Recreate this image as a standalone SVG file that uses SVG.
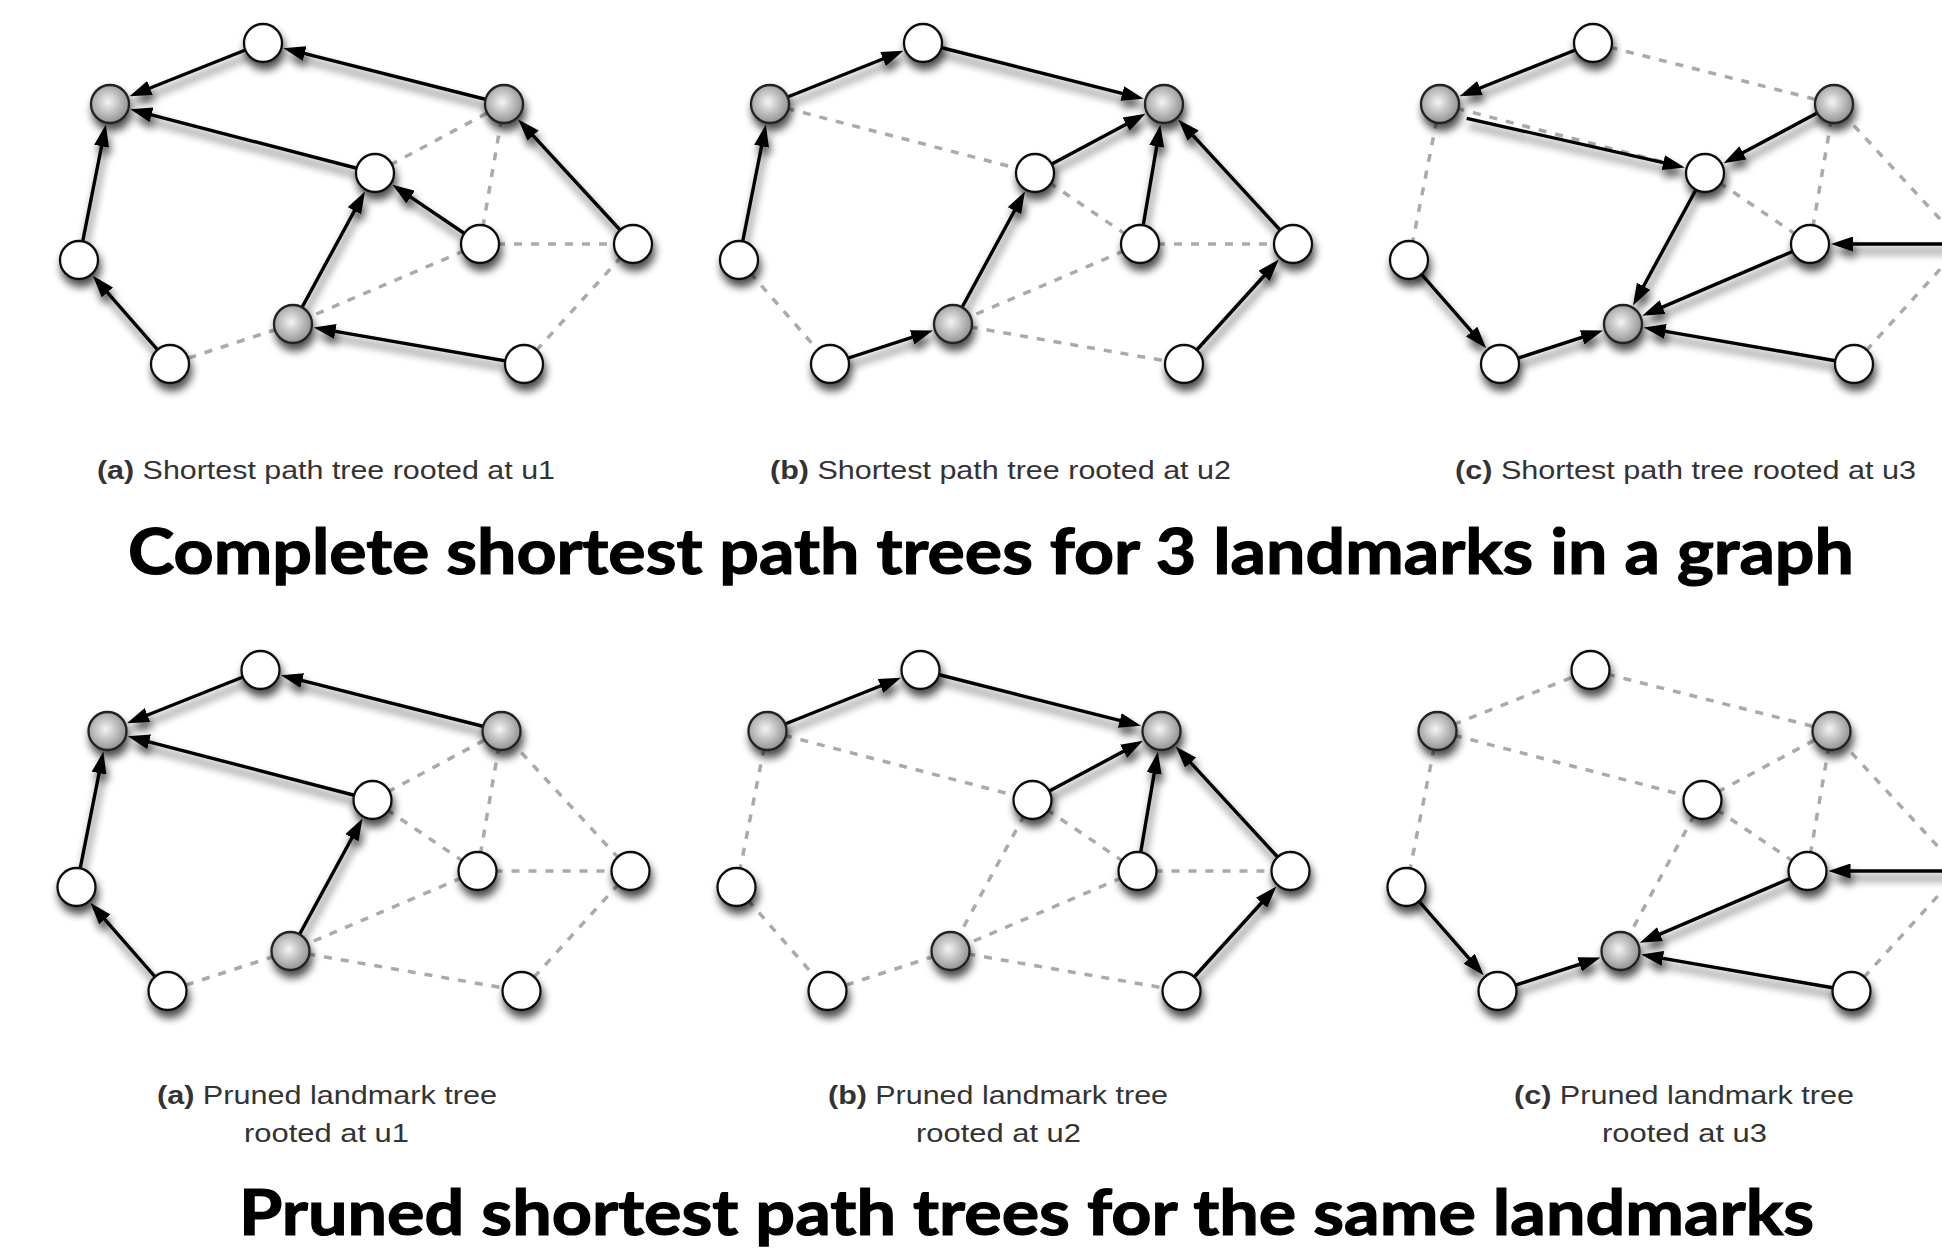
<svg xmlns="http://www.w3.org/2000/svg" width="1942" height="1249" viewBox="0 0 1942 1249">
<style>
.solid{stroke:#000;stroke-width:3.4;fill:none;marker-end:url(#ah)}
.dash{stroke:#aaaaaa;stroke-width:3.5;stroke-dasharray:8 9;fill:none}
.wn{fill:#fff;stroke:#111;stroke-width:2.3}
.gn{fill:url(#gg);stroke:#222;stroke-width:2.3}
.cap{font-family:"Liberation Sans",Arial,sans-serif;font-size:26px;fill:#333}
.title{font-family:Lato,"Open Sans",sans-serif;font-weight:700;font-size:63px;fill:#000;stroke:#000;stroke-width:1.2}
</style>
<defs>
<marker id="ah" viewBox="0 0 22 15" refX="16" refY="7.5" markerWidth="22" markerHeight="15" markerUnits="userSpaceOnUse" orient="auto"><path d="M0,0 L22,7.5 L0,15 z" fill="#000"/></marker>
<radialGradient id="gg" cx="0.45" cy="0.45" r="0.6"><stop offset="0" stop-color="#f4f4f4"/><stop offset="1" stop-color="#8a8a8a"/></radialGradient>
<filter id="sh" x="-20%" y="-20%" width="140%" height="150%"><feGaussianBlur in="SourceAlpha" stdDeviation="4.5"/><feOffset dx="2" dy="7"/><feComponentTransfer><feFuncA type="linear" slope="0.7"/></feComponentTransfer><feMerge><feMergeNode/><feMergeNode in="SourceGraphic"/></feMerge></filter>
</defs>
<rect width="1942" height="1249" fill="#fff"/>

<!-- ===== Panel a1 ===== -->
<g id="panel-a1" transform="translate(0,0)">
<g id="connectors-a1">
<g class="dashes">
<path class="dash" d="M375,173 L504,104"/>
<path class="dash" d="M480,244 L504,104"/>
<path class="dash" d="M480,244 L633,244"/>
<path class="dash" d="M480,244 L293,324"/>
<path class="dash" d="M293,324 L170,364"/>
<path class="dash" d="M633,244 L524,364"/>
</g>
<g filter="url(#sh)">
<path class="solid" d="M263,43 L135.1,94.0"/>
<path class="solid" d="M504,104 L289.2,49.6"/>
<path class="solid" d="M375,173 L136.1,110.8"/>
<path class="solid" d="M79,260 L104.7,130.5"/>
<path class="solid" d="M170,364 L96.8,280.3"/>
<path class="solid" d="M293,324 L362.1,196.7"/>
<path class="solid" d="M480,244 L397.4,188.1"/>
<path class="solid" d="M633,244 L522.3,123.9"/>
<path class="solid" d="M524,364 L319.6,328.6"/>
</g>
</g>
<g filter="url(#sh)">
<g id="a1-T"><circle class="wn" cx="263" cy="43" r="19"/></g>
<g id="a1-GL"><circle class="gn" cx="110" cy="104" r="19"/></g>
<g id="a1-GR"><circle class="gn" cx="504" cy="104" r="19"/></g>
<g id="a1-M"><circle class="wn" cx="375" cy="173" r="19"/></g>
<g id="a1-L"><circle class="wn" cx="79" cy="260" r="19"/></g>
<g id="a1-RM"><circle class="wn" cx="480" cy="244" r="19"/></g>
<g id="a1-FR"><circle class="wn" cx="633" cy="244" r="19"/></g>
<g id="a1-GB"><circle class="gn" cx="293" cy="324" r="19"/></g>
<g id="a1-BL"><circle class="wn" cx="170" cy="364" r="19"/></g>
<g id="a1-BR"><circle class="wn" cx="524" cy="364" r="19"/></g>
</g>
</g>

<!-- ===== Panel b1 ===== -->
<g id="panel-b1" transform="translate(660,0)">
<g id="connectors-b1">
<g class="dashes">
<path class="dash" d="M110,104 L375,173"/>
<path class="dash" d="M375,173 L480,244"/>
<path class="dash" d="M480,244 L633,244"/>
<path class="dash" d="M480,244 L293,324"/>
<path class="dash" d="M293,324 L524,364"/>
<path class="dash" d="M79,260 L170,364"/>
</g>
<g filter="url(#sh)">
<path class="solid" d="M110,104 L237.9,53.0"/>
<path class="solid" d="M263,43 L477.8,97.4"/>
<path class="solid" d="M375,173 L480.2,116.7"/>
<path class="solid" d="M480,244 L499.4,130.6"/>
<path class="solid" d="M633,244 L522.3,123.9"/>
<path class="solid" d="M293,324 L362.1,196.7"/>
<path class="solid" d="M170,364 L267.3,332.4"/>
<path class="solid" d="M79,260 L104.7,130.5"/>
<path class="solid" d="M524,364 L614.8,264.0"/>
</g>
</g>
<g filter="url(#sh)">
<g id="b1-T"><circle class="wn" cx="263" cy="43" r="19"/></g>
<g id="b1-GL"><circle class="gn" cx="110" cy="104" r="19"/></g>
<g id="b1-GR"><circle class="gn" cx="504" cy="104" r="19"/></g>
<g id="b1-M"><circle class="wn" cx="375" cy="173" r="19"/></g>
<g id="b1-L"><circle class="wn" cx="79" cy="260" r="19"/></g>
<g id="b1-RM"><circle class="wn" cx="480" cy="244" r="19"/></g>
<g id="b1-FR"><circle class="wn" cx="633" cy="244" r="19"/></g>
<g id="b1-GB"><circle class="gn" cx="293" cy="324" r="19"/></g>
<g id="b1-BL"><circle class="wn" cx="170" cy="364" r="19"/></g>
<g id="b1-BR"><circle class="wn" cx="524" cy="364" r="19"/></g>
</g>
</g>

<!-- ===== Panel c1 ===== -->
<g id="panel-c1" transform="translate(1330,0)">
<g id="connectors-c1">
<g class="dashes">
<path class="dash" d="M263,43 L504,104"/>
<path class="dash" d="M110,104 L79,260"/>
<path class="dash" d="M110,104 L375,173"/>
<path class="dash" d="M375,173 L480,244"/>
<path class="dash" d="M480,244 L504,104"/>
<path class="dash" d="M633,244 L504,104"/>
<path class="dash" d="M633,244 L524,364"/>
</g>
<g filter="url(#sh)">
<path class="solid" d="M263,43 L135.1,94.0"/>
<path class="solid" d="M136.7,118.3 L348.9,166.2"/>
<path class="solid" d="M504,104 L398.8,160.3"/>
<path class="solid" d="M375,173 L305.9,300.3"/>
<path class="solid" d="M480,244 L317.8,313.4"/>
<path class="solid" d="M633,244 L507,244"/>
<path class="solid" d="M524,364 L319.6,328.6"/>
<path class="solid" d="M79,260 L152.2,343.7"/>
<path class="solid" d="M170,364 L267.3,332.4"/>
</g>
</g>
<g filter="url(#sh)">
<g id="c1-T"><circle class="wn" cx="263" cy="43" r="19"/></g>
<g id="c1-GL"><circle class="gn" cx="110" cy="104" r="19"/></g>
<g id="c1-GR"><circle class="gn" cx="504" cy="104" r="19"/></g>
<g id="c1-M"><circle class="wn" cx="375" cy="173" r="19"/></g>
<g id="c1-L"><circle class="wn" cx="79" cy="260" r="19"/></g>
<g id="c1-RM"><circle class="wn" cx="480" cy="244" r="19"/></g>
<g id="c1-GB"><circle class="gn" cx="293" cy="324" r="19"/></g>
<g id="c1-BL"><circle class="wn" cx="170" cy="364" r="19"/></g>
<g id="c1-BR"><circle class="wn" cx="524" cy="364" r="19"/></g>
</g>
</g>

<!-- ===== Panel a2 ===== -->
<g id="panel-a2" transform="translate(-2.5,627)">
<g id="connectors-a2">
<g class="dashes">
<path class="dash" d="M375,173 L504,104"/>
<path class="dash" d="M480,244 L504,104"/>
<path class="dash" d="M633,244 L504,104"/>
<path class="dash" d="M375,173 L480,244"/>
<path class="dash" d="M480,244 L633,244"/>
<path class="dash" d="M480,244 L293,324"/>
<path class="dash" d="M293,324 L524,364"/>
<path class="dash" d="M633,244 L524,364"/>
<path class="dash" d="M293,324 L170,364"/>
</g>
<g filter="url(#sh)">
<path class="solid" d="M263,43 L135.1,94.0"/>
<path class="solid" d="M504,104 L289.2,49.6"/>
<path class="solid" d="M375,173 L136.1,110.8"/>
<path class="solid" d="M79,260 L104.7,130.5"/>
<path class="solid" d="M170,364 L96.8,280.3"/>
<path class="solid" d="M293,324 L362.1,196.7"/>
</g>
</g>
<g filter="url(#sh)">
<g id="a2-T"><circle class="wn" cx="263" cy="43" r="19"/></g>
<g id="a2-GL"><circle class="gn" cx="110" cy="104" r="19"/></g>
<g id="a2-GR"><circle class="gn" cx="504" cy="104" r="19"/></g>
<g id="a2-M"><circle class="wn" cx="375" cy="173" r="19"/></g>
<g id="a2-L"><circle class="wn" cx="79" cy="260" r="19"/></g>
<g id="a2-RM"><circle class="wn" cx="480" cy="244" r="19"/></g>
<g id="a2-FR"><circle class="wn" cx="633" cy="244" r="19"/></g>
<g id="a2-GB"><circle class="gn" cx="293" cy="324" r="19"/></g>
<g id="a2-BL"><circle class="wn" cx="170" cy="364" r="19"/></g>
<g id="a2-BR"><circle class="wn" cx="524" cy="364" r="19"/></g>
</g>
</g>

<!-- ===== Panel b2 ===== -->
<g id="panel-b2" transform="translate(657.5,627)">
<g id="connectors-b2">
<g class="dashes">
<path class="dash" d="M110,104 L375,173"/>
<path class="dash" d="M110,104 L79,260"/>
<path class="dash" d="M79,260 L170,364"/>
<path class="dash" d="M293,324 L170,364"/>
<path class="dash" d="M375,173 L293,324"/>
<path class="dash" d="M375,173 L480,244"/>
<path class="dash" d="M480,244 L633,244"/>
<path class="dash" d="M480,244 L293,324"/>
<path class="dash" d="M293,324 L524,364"/>
</g>
<g filter="url(#sh)">
<path class="solid" d="M110,104 L237.9,53.0"/>
<path class="solid" d="M263,43 L477.8,97.4"/>
<path class="solid" d="M375,173 L480.2,116.7"/>
<path class="solid" d="M480,244 L499.4,130.6"/>
<path class="solid" d="M633,244 L522.3,123.9"/>
<path class="solid" d="M524,364 L614.8,264.0"/>
</g>
</g>
<g filter="url(#sh)">
<g id="b2-T"><circle class="wn" cx="263" cy="43" r="19"/></g>
<g id="b2-GL"><circle class="gn" cx="110" cy="104" r="19"/></g>
<g id="b2-GR"><circle class="gn" cx="504" cy="104" r="19"/></g>
<g id="b2-M"><circle class="wn" cx="375" cy="173" r="19"/></g>
<g id="b2-L"><circle class="wn" cx="79" cy="260" r="19"/></g>
<g id="b2-RM"><circle class="wn" cx="480" cy="244" r="19"/></g>
<g id="b2-FR"><circle class="wn" cx="633" cy="244" r="19"/></g>
<g id="b2-GB"><circle class="gn" cx="293" cy="324" r="19"/></g>
<g id="b2-BL"><circle class="wn" cx="170" cy="364" r="19"/></g>
<g id="b2-BR"><circle class="wn" cx="524" cy="364" r="19"/></g>
</g>
</g>

<!-- ===== Panel c2 ===== -->
<g id="panel-c2" transform="translate(1327.5,627)">
<g id="connectors-c2">
<g class="dashes">
<path class="dash" d="M110,104 L263,43"/>
<path class="dash" d="M263,43 L504,104"/>
<path class="dash" d="M110,104 L375,173"/>
<path class="dash" d="M110,104 L79,260"/>
<path class="dash" d="M375,173 L504,104"/>
<path class="dash" d="M375,173 L480,244"/>
<path class="dash" d="M375,173 L293,324"/>
<path class="dash" d="M480,244 L504,104"/>
<path class="dash" d="M633,244 L504,104"/>
<path class="dash" d="M633,244 L524,364"/>
</g>
<g filter="url(#sh)">
<path class="solid" d="M79,260 L152.2,343.7"/>
<path class="solid" d="M170,364 L267.3,332.4"/>
<path class="solid" d="M480,244 L317.8,313.4"/>
<path class="solid" d="M524,364 L319.6,328.6"/>
<path class="solid" d="M633,244 L507,244"/>
</g>
</g>
<g filter="url(#sh)">
<g id="c2-T"><circle class="wn" cx="263" cy="43" r="19"/></g>
<g id="c2-GL"><circle class="gn" cx="110" cy="104" r="19"/></g>
<g id="c2-GR"><circle class="gn" cx="504" cy="104" r="19"/></g>
<g id="c2-M"><circle class="wn" cx="375" cy="173" r="19"/></g>
<g id="c2-L"><circle class="wn" cx="79" cy="260" r="19"/></g>
<g id="c2-RM"><circle class="wn" cx="480" cy="244" r="19"/></g>
<g id="c2-GB"><circle class="gn" cx="293" cy="324" r="19"/></g>
<g id="c2-BL"><circle class="wn" cx="170" cy="364" r="19"/></g>
<g id="c2-BR"><circle class="wn" cx="524" cy="364" r="19"/></g>
</g>
</g>

<!-- ===== Captions ===== -->
<g id="captions">
<text class="cap" x="97" y="479" textLength="458" lengthAdjust="spacingAndGlyphs"><tspan font-weight="bold">(a)</tspan> Shortest path tree rooted at u1</text>
<text class="cap" x="770" y="479" textLength="461" lengthAdjust="spacingAndGlyphs"><tspan font-weight="bold">(b)</tspan> Shortest path tree rooted at u2</text>
<text class="cap" x="1455" y="479" textLength="461" lengthAdjust="spacingAndGlyphs"><tspan font-weight="bold">(c)</tspan> Shortest path tree rooted at u3</text>
<text class="cap" x="157" y="1104" textLength="340" lengthAdjust="spacingAndGlyphs"><tspan font-weight="bold">(a)</tspan> Pruned landmark tree</text>
<text class="cap" x="244" y="1142" textLength="165" lengthAdjust="spacingAndGlyphs">rooted at u1</text>
<text class="cap" x="828" y="1104" textLength="340" lengthAdjust="spacingAndGlyphs"><tspan font-weight="bold">(b)</tspan> Pruned landmark tree</text>
<text class="cap" x="916" y="1142" textLength="165" lengthAdjust="spacingAndGlyphs">rooted at u2</text>
<text class="cap" x="1514" y="1104" textLength="340" lengthAdjust="spacingAndGlyphs"><tspan font-weight="bold">(c)</tspan> Pruned landmark tree</text>
<text class="cap" x="1602" y="1142" textLength="165" lengthAdjust="spacingAndGlyphs">rooted at u3</text>
</g>
<g id="titles">
<text class="title" x="128" y="574" textLength="1726" lengthAdjust="spacingAndGlyphs">Complete shortest path trees for 3 landmarks in a graph</text>
<text class="title" x="239" y="1235" textLength="1575" lengthAdjust="spacingAndGlyphs">Pruned shortest path trees for the same landmarks</text>
</g>
</svg>
